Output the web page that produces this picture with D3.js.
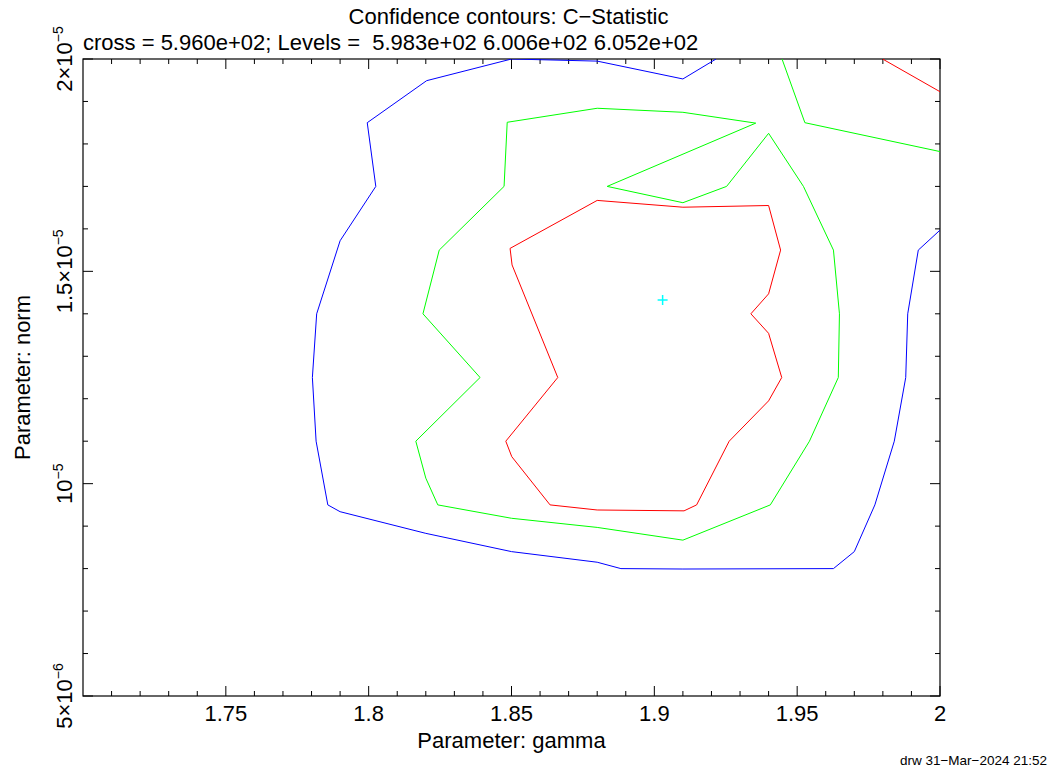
<!DOCTYPE html>
<html>
<head>
<meta charset="utf-8">
<script src="https://cdn.jsdelivr.net/npm/d3@7"></script>
<style>
  html, body { margin: 0; padding: 0; background: #fff; }
  svg { display: block; font-family: "Liberation Sans", Arial, Helvetica, sans-serif; }
</style>
</head>
<body>
<div id="chart"></div>
<script>
// axis ranges and ticks
const gammaRange = [1.7, 2.0];
const normRange = [5e-6, 2e-5];
const gammaTicks = [1.75, 1.8, 1.85, 1.9, 1.95, 2];
const gammaTickLabels = ['1.75', '1.8', '1.85', '1.9', '1.95', '2'];
const normTicks = [5e-6, 1e-5, 1.5e-5, 2e-5];
const normTickLabels = [['5×10', '−6'], ['10', '−5'], ['1.5×10', '−5'], ['2×10', '−5']];

// contour levels (C-statistic)
const levels = ['5.983e+02', '6.006e+02', '6.052e+02'];
const levelColors = ['#ff0000', '#00ff00', '#0000ff'];

// best fit
const bestFit = [1.9029, 1.4325e-5];

// contour polylines, [gamma, norm]
const redMain = [
  [1.8495, 1.554e-5], [1.88, 1.667e-5], [1.91, 1.651e-5], [1.94, 1.655e-5],
  [1.9442, 1.55e-5], [1.94, 1.447e-5], [1.9338, 1.40e-5], [1.94, 1.354e-5],
  [1.9446, 1.25e-5], [1.94, 1.195e-5], [1.9262, 1.10e-5], [1.9148, 0.95e-5],
  [1.9104, 0.936e-5], [1.88, 0.938e-5], [1.8635, 0.95e-5], [1.8501, 1.0635e-5],
  [1.848, 1.10e-5], [1.8662, 1.25e-5], [1.8502, 1.515e-5], [1.8495, 1.554e-5]
];
const redCorner = [[1.9799, 2.0e-5], [2.0, 1.923e-5]];

const greenMain = [
  [1.9355, 1.849e-5], [1.91, 1.8745e-5], [1.88, 1.884e-5], [1.8485, 1.851e-5],
  [1.8474, 1.70e-5], [1.8247, 1.55e-5], [1.819, 1.40e-5], [1.839, 1.25e-5],
  [1.8165, 1.10e-5], [1.82, 1.013e-5], [1.8242, 0.95e-5], [1.85, 0.9185e-5],
  [1.88, 0.897e-5], [1.91, 0.867e-5], [1.9406, 0.95e-5], [1.9543, 1.10e-5],
  [1.9644, 1.25e-5], [1.9648, 1.40e-5], [1.9627, 1.55e-5], [1.9522, 1.70e-5],
  [1.94, 1.825e-5], [1.9253, 1.70e-5], [1.91, 1.6616e-5], [1.8835, 1.70e-5],
  [1.9355, 1.849e-5]
];
const greenCorner = [[1.9447, 2.0e-5], [1.9527, 1.85e-5], [2.0, 1.782e-5]];

const blueMain = [
  [1.9216, 2.0e-5], [1.91, 1.953e-5], [1.88, 1.995e-5], [1.85, 2.0e-5],
  [1.8203, 1.949e-5], [1.7995, 1.85e-5], [1.8025, 1.70e-5], [1.79, 1.572e-5],
  [1.7818, 1.40e-5], [1.7803, 1.25e-5], [1.7816, 1.10e-5], [1.7857, 0.95e-5],
  [1.79, 0.934e-5], [1.82, 0.883e-5], [1.85, 0.840e-5], [1.88, 0.815e-5],
  [1.8883, 0.800e-5], [1.91, 0.799e-5], [1.9627, 0.800e-5], [1.97, 0.840e-5],
  [1.9772, 0.950e-5], [1.984, 1.10e-5], [1.988, 1.25e-5], [1.9887, 1.40e-5],
  [1.9924, 1.55e-5], [2.0, 1.597e-5]
];

const contours = [
  { pts: blueMain, color: levelColors[2] },
  { pts: greenMain, color: levelColors[1] },
  { pts: greenCorner, color: levelColors[1] },
  { pts: redMain, color: levelColors[0] },
  { pts: redCorner, color: levelColors[0] },
];

const width = 1050, height = 773;
const margin = { top: 59, right: 110, bottom: 77, left: 83 };
const W = width - margin.left - margin.right;
const H = height - margin.top - margin.bottom;
const fs = 22;

const x = d3.scaleLinear().domain(gammaRange).range([0, W]);
const y = d3.scaleLinear().domain(normRange).range([H, 0]);

const svg = d3.select('#chart').append('svg')
  .attr('width', width).attr('height', height);

svg.append('defs').append('clipPath').attr('id', 'clip')
  .append('rect').attr('width', W).attr('height', H);

const g = svg.append('g').attr('transform', `translate(${margin.left},${margin.top})`);

// ticks (inward, on all four sides)
const xMinor = d3.range(1.71, 2.0, 0.01).filter(v => !gammaTicks.some(t => Math.abs(t - v) < 1e-9));
const yMinor = d3.range(6e-6, 2e-5, 1e-6).filter(v => !normTicks.some(t => Math.abs(t - v) < 1e-12));

const tickG = g.append('g').attr('stroke', '#000').attr('stroke-width', 1);
[[gammaTicks, 10], [xMinor, 5]].forEach(([vals, len]) => {
  vals.forEach(v => {
    tickG.append('line').attr('x1', x(v)).attr('x2', x(v)).attr('y1', H).attr('y2', H - len);
    tickG.append('line').attr('x1', x(v)).attr('x2', x(v)).attr('y1', 0).attr('y2', len);
  });
});
[[normTicks, 10], [yMinor, 5]].forEach(([vals, len]) => {
  vals.forEach(v => {
    tickG.append('line').attr('y1', y(v)).attr('y2', y(v)).attr('x1', 0).attr('x2', len);
    tickG.append('line').attr('y1', y(v)).attr('y2', y(v)).attr('x1', W).attr('x2', W - len);
  });
});

// frame
g.append('rect').attr('width', W).attr('height', H)
  .attr('fill', 'none').attr('stroke', '#000').attr('stroke-width', 1.2);

// contours
const line = d3.line().x(d => x(d[0])).y(d => y(d[1]));
const cg = g.append('g').attr('clip-path', 'url(#clip)');
contours.forEach(c => {
  cg.append('path').attr('d', line(c.pts))
    .attr('fill', 'none').attr('stroke', c.color).attr('stroke-width', 1);
});

// best-fit cross
const cx = x(bestFit[0]), cy = y(bestFit[1]);
g.append('path')
  .attr('d', `M${cx - 5},${cy}H${cx + 5}M${cx},${cy - 5}V${cy + 5}`)
  .attr('stroke', '#00ffff').attr('stroke-width', 1.5);

// x tick labels
g.selectAll('.xlab').data(gammaTicks).enter().append('text')
  .attr('x', d => x(d)).attr('y', H + 25)
  .attr('text-anchor', 'middle').attr('font-size', fs)
  .text((d, i) => gammaTickLabels[i]);

// y tick labels, rotated
normTicks.forEach((v, i) => {
  const t = svg.append('text')
    .attr('transform', `translate(${margin.left - 11},${margin.top + y(v)}) rotate(-90)`)
    .attr('text-anchor', 'middle').attr('font-size', fs);
  t.append('tspan').text(normTickLabels[i][0]);
  t.append('tspan').attr('dy', -9).attr('font-size', 14).text(normTickLabels[i][1]);
});

// axis titles
svg.append('text')
  .attr('x', margin.left + W / 2).attr('y', 748)
  .attr('text-anchor', 'middle').attr('font-size', fs)
  .text('Parameter: gamma');
svg.append('text')
  .attr('transform', `translate(30,${margin.top + H / 2}) rotate(-90)`)
  .attr('text-anchor', 'middle').attr('font-size', fs)
  .text('Parameter: norm');

// titles
svg.append('text')
  .attr('x', margin.left + W / 2 - 3).attr('y', 24)
  .attr('text-anchor', 'middle').attr('font-size', fs)
  .text('Confidence contours: C−Statistic');
svg.append('text')
  .attr('x', margin.left).attr('y', 50)
  .attr('font-size', fs)
  .attr('xml:space', 'preserve')
  .style('white-space', 'pre')
  .text(`cross = 5.960e+02; Levels =  ${levels.join(' ')}`);

// footer
svg.append('text')
  .attr('x', 1047).attr('y', 765)
  .attr('text-anchor', 'end').attr('font-size', 13.5)
  .text('drw 31−Mar−2024 21:52');
</script>
</body>
</html>
